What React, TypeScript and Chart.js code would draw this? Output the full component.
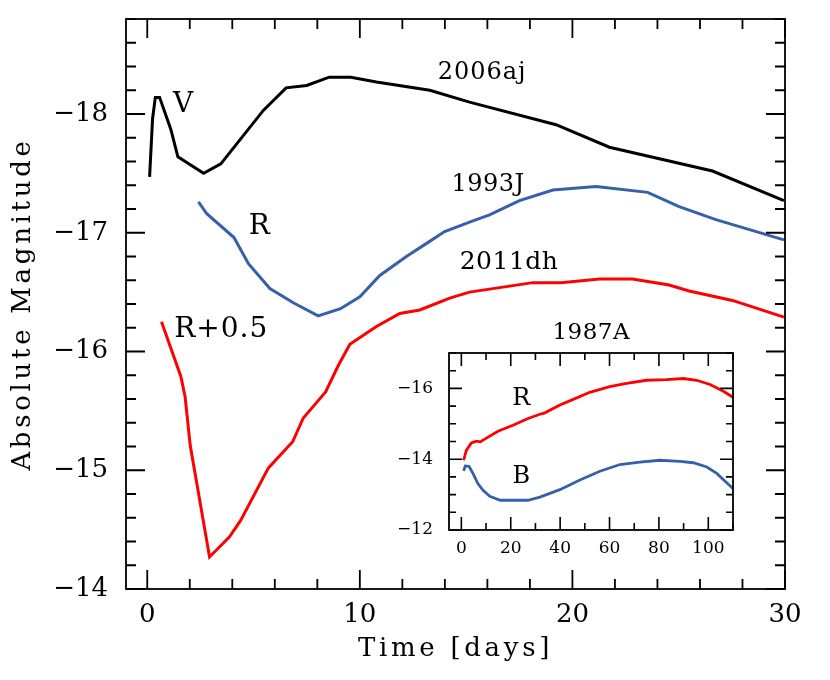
import React, { useEffect, useRef } from "react";
import { Chart, registerables } from "chart.js";

Chart.register(...registerables);

const FONT = "'DejaVu Serif', 'Liberation Serif', serif";

// ---------------- data ----------------
// SN 2006aj, V band (main panel)
const sn2006ajDays = [0.11, 0.25, 0.38, 0.58, 1.11, 1.44, 2.65, 3.46, 5.46, 6.53, 7.5, 8.56, 9.58, 10.78, 13.29, 15.16, 19.23, 21.74, 26.59, 29.95];
const sn2006ajMag = [-17.47, -17.96, -18.14, -18.14, -17.87, -17.64, -17.5, -17.58, -18.03, -18.22, -18.24, -18.31, -18.31, -18.27, -18.2, -18.1, -17.91, -17.72, -17.52, -17.27];

// SN 1993J, R band
const sn1993jDays = [2.41, 2.8, 4.08, 4.76, 5.77, 6.87, 8.04, 9.09, 10.0, 10.94, 12.19, 13.05, 13.99, 15.16, 16.1, 17.51, 19.08, 21.11, 23.54, 25.02, 26.75, 29.95];
const sn1993jMag = [-17.26, -17.16, -16.96, -16.74, -16.53, -16.41, -16.3, -16.36, -16.46, -16.64, -16.8, -16.9, -17.01, -17.09, -17.15, -17.27, -17.36, -17.39, -17.34, -17.22, -17.11, -16.94];

// SN 2011dh, R band + 0.5
const sn2011dhDays = [0.67, 1.58, 1.78, 2.02, 2.93, 3.87, 4.4, 5.7, 6.84, 7.34, 7.82, 8.39, 8.98, 9.53, 10.78, 11.88, 12.82, 14.23, 15.16, 18.14, 19.47, 21.27, 22.83, 24.55, 25.49, 27.53, 29.95];
const sn2011dhMag = [-16.25, -15.79, -15.62, -15.21, -14.27, -14.44, -14.58, -15.02, -15.24, -15.44, -15.54, -15.66, -15.88, -16.06, -16.21, -16.32, -16.35, -16.45, -16.5, -16.58, -16.58, -16.61, -16.61, -16.56, -16.51, -16.43, -16.29];

// SN 1987A inset, R and B bands
const sn1987aRDays = [0.93, 2.0, 4.05, 6.1, 7.7, 8.8, 14.8, 20.9, 27.0, 31.8, 33.8, 39.9, 45.3, 52.0, 60.1, 66.9, 75.0, 83.1, 89.9, 95.3, 100.7, 106.1, 110.0];
const sn1987aRMag = [-13.97, -14.25, -14.46, -14.51, -14.49, -14.54, -14.79, -14.96, -15.15, -15.27, -15.31, -15.53, -15.69, -15.89, -16.05, -16.14, -16.23, -16.25, -16.28, -16.23, -16.11, -15.92, -15.75];
const sn1987aBDays = [0.93, 1.6, 3.1, 4.7, 6.7, 8.8, 11.5, 15.8, 27.0, 31.8, 39.9, 48.0, 56.1, 64.2, 72.3, 80.4, 88.5, 93.9, 99.4, 103.4, 110.0];
const sn1987aBMag = [-13.67, -13.81, -13.8, -13.6, -13.31, -13.12, -12.95, -12.84, -12.84, -12.93, -13.14, -13.41, -13.66, -13.85, -13.92, -13.97, -13.94, -13.9, -13.78, -13.6, -13.17];

// tick labels
const mainXTicks = [0, 10, 20, 30];
const mainYTicks = [-18, -17, -16, -15, -14];
const insetXTicks = [0, 20, 40, 60, 80, 100];
const insetYTicks = [-16, -14, -12];

// ---------------- helpers ----------------
const pts = (xs: number[], ys: number[]) => xs.map((x, i) => ({ x, y: ys[i] }));
const fmt = (v: number) => (v < 0 ? "\u2212" + Math.abs(v) : String(v));

type TextLabel = { text: string; x: number; y: number; size: number; spacing?: number };
type FrameCfg = {
  xMinor: number; xMajor: number; yMinor: number; yMajor: number;
  majorLen: number; minorLen: number; tickWidth: number; frameWidth: number;
  titleSpacing: string; labels: TextLabel[];
};

const isMultiple = (v: number, step: number) => Math.abs(v / step - Math.round(v / step)) < 1e-6;

const framePlugin = (cfg: FrameCfg) => ({
  id: "frameTicksLabels",
  beforeDraw(chart: any) {
    chart.ctx.letterSpacing = cfg.titleSpacing;
  },
  beforeDatasetsDraw(chart: any) {
    chart.ctx.letterSpacing = "0px";
  },
  afterDatasetsDraw(chart: any) {
    const { ctx, chartArea: ca, scales } = chart;
    const xs = scales.x;
    const ys = scales.y;
    ctx.save();
    ctx.strokeStyle = "#000";
    ctx.lineWidth = cfg.tickWidth;
    ctx.lineCap = "butt";
    ctx.beginPath();
    const eps = 1e-6;
    for (let i = Math.ceil(xs.min / cfg.xMinor - eps); i * cfg.xMinor <= xs.max + eps; i++) {
      const v = i * cfg.xMinor;
      const p = xs.getPixelForValue(v);
      const len = isMultiple(v, cfg.xMajor) ? cfg.majorLen : cfg.minorLen;
      ctx.moveTo(p, ca.bottom);
      ctx.lineTo(p, ca.bottom - len);
      ctx.moveTo(p, ca.top);
      ctx.lineTo(p, ca.top + len);
    }
    for (let i = Math.ceil(ys.min / cfg.yMinor - eps); i * cfg.yMinor <= ys.max + eps; i++) {
      const v = i * cfg.yMinor;
      const p = ys.getPixelForValue(v);
      const len = isMultiple(v, cfg.yMajor) ? cfg.majorLen : cfg.minorLen;
      ctx.moveTo(ca.left, p);
      ctx.lineTo(ca.left + len, p);
      ctx.moveTo(ca.right, p);
      ctx.lineTo(ca.right - len, p);
    }
    ctx.stroke();
    ctx.lineWidth = cfg.frameWidth;
    ctx.strokeRect(ca.left, ca.top, ca.right - ca.left, ca.bottom - ca.top);

    ctx.fillStyle = "#000";
    ctx.textAlign = "center";
    ctx.textBaseline = "middle";
    for (const l of cfg.labels) {
      ctx.font = `${l.size}px ${FONT}`;
      ctx.letterSpacing = `${l.spacing ?? 0}px`;
      ctx.fillText(l.text, xs.getPixelForValue(l.x), ys.getPixelForValue(l.y));
    }
    ctx.letterSpacing = "0px";
    ctx.restore();
  },
});

const mainLabels: TextLabel[] = [
  { text: "V", x: 1.69, y: -18.08, size: 28 },
  { text: "2006aj", x: 15.75, y: -18.35, size: 24, spacing: 1 },
  { text: "1993J", x: 16.03, y: -17.4, size: 24, spacing: 0.5 },
  { text: "R", x: 5.27, y: -17.05, size: 28 },
  { text: "2011dh", x: 17.02, y: -16.75, size: 25, spacing: 0.5 },
  { text: "R+0.5", x: 3.48, y: -16.18, size: 28, spacing: 1 },
];

const insetLabels: TextLabel[] = [
  { text: "1987A", x: 52.6, y: -17.56, size: 23, spacing: 0.5 },
  { text: "R", x: 24.3, y: -15.72, size: 24 },
  { text: "B", x: 24.3, y: -13.5, size: 24 },
];

const RED = "#ff0000";
const BLUE = "#3561aa";

const lineDs = (data: { x: number; y: number }[], color: string, width: number) => ({
  data,
  borderColor: color,
  backgroundColor: color,
  borderWidth: width,
  pointRadius: 0,
  tension: 0,
  fill: false,
});

const clearPad = (s: any) => {
  s.paddingTop = 0;
  s.paddingBottom = 0;
  s.paddingLeft = 0;
  s.paddingRight = 0;
};

export default function App() {
  const mainRef = useRef<HTMLCanvasElement>(null);
  const insetRef = useRef<HTMLCanvasElement>(null);

  useEffect(() => {
    Chart.defaults.color = "#000";
    const main = new Chart(mainRef.current as HTMLCanvasElement, {
      type: "line",
      data: {
        datasets: [
          lineDs(pts(sn2006ajDays, sn2006ajMag), "#000000", 3),
          lineDs(pts(sn1993jDays, sn1993jMag), BLUE, 3),
          lineDs(pts(sn2011dhDays, sn2011dhMag), RED, 3),
        ],
      },
      options: {
        animation: false,
        responsive: false,
        devicePixelRatio: 1,
        layout: { padding: { left: 0, top: 19, right: 45, bottom: 0 } },
        plugins: { legend: { display: false }, tooltip: { enabled: false } },
        scales: {
          x: {
            type: "linear",
            min: -1,
            max: 30,
            grid: { display: false, drawTicks: false },
            border: { display: false },
            afterBuildTicks: (s: any) => {
              s.ticks = mainXTicks.map((value) => ({ value }));
            },
            afterFit: (s: any) => {
              s.height = 91;
              clearPad(s);
            },
            ticks: {
              z: 1,
              autoSkip: false,
              maxRotation: 0,
              padding: 11,
              color: "#000",
              font: { family: FONT, size: 26 },
              callback: (v: any) => fmt(Number(v)),
            },
            title: {
              display: true,
              text: "Time [days]",
              color: "#000",
              font: { family: FONT, size: 26 },
              padding: { top: 0, bottom: 15 },
            },
          },
          y: {
            type: "linear",
            min: -18.8,
            max: -14,
            reverse: true,
            grid: { display: false, drawTicks: false },
            border: { display: false },
            afterBuildTicks: (s: any) => {
              s.ticks = mainYTicks.map((value) => ({ value }));
            },
            afterFit: (s: any) => {
              s.width = 126;
              clearPad(s);
            },
            ticks: {
              z: 1,
              autoSkip: false,
              padding: 18,
              color: "#000",
              font: { family: FONT, size: 26 },
              callback: (v: any) => fmt(Number(v)),
            },
            title: {
              display: true,
              text: "Absolute Magnitude",
              color: "#000",
              font: { family: FONT, size: 26 },
              padding: { top: 8, bottom: 0 },
            },
          },
        },
      },
      plugins: [
        framePlugin({
          xMinor: 2, xMajor: 10, yMinor: 0.2, yMajor: 1,
          majorLen: 19, minorLen: 10, tickWidth: 1.8, frameWidth: 1.8,
          titleSpacing: "3.7px", labels: mainLabels,
        }),
      ],
    } as any);

    const inset = new Chart(insetRef.current as HTMLCanvasElement, {
      type: "line",
      data: {
        datasets: [
          lineDs(pts(sn1987aRDays, sn1987aRMag), RED, 2.8),
          lineDs(pts(sn1987aBDays, sn1987aBMag), BLUE, 2.8),
        ],
      },
      options: {
        animation: false,
        responsive: false,
        devicePixelRatio: 1,
        layout: { padding: { left: 0, top: 38, right: 17, bottom: 0 } },
        plugins: { legend: { display: false }, tooltip: { enabled: false } },
        scales: {
          x: {
            type: "linear",
            min: -5,
            max: 110,
            grid: { display: false, drawTicks: false },
            border: { display: false },
            afterBuildTicks: (s: any) => {
              s.ticks = insetXTicks.map((value) => ({ value }));
            },
            afterFit: (s: any) => {
              s.height = 35;
              clearPad(s);
            },
            ticks: {
              z: 1,
              autoSkip: false,
              maxRotation: 0,
              padding: 8,
              color: "#000",
              font: { family: FONT, size: 17 },
              callback: (v: any) => fmt(Number(v)),
            },
          },
          y: {
            type: "linear",
            min: -17,
            max: -12,
            reverse: true,
            grid: { display: false, drawTicks: false },
            border: { display: false },
            afterBuildTicks: (s: any) => {
              s.ticks = insetYTicks.map((value) => ({ value }));
            },
            afterFit: (s: any) => {
              s.width = 59;
              clearPad(s);
            },
            ticks: {
              z: 1,
              autoSkip: false,
              padding: 16,
              color: "#000",
              font: { family: FONT, size: 17 },
              callback: (v: any) => fmt(Number(v)),
            },
          },
        },
      },
      plugins: [
        framePlugin({
          xMinor: 10, xMajor: 20, yMinor: 0.5, yMajor: 2,
          majorLen: 13, minorLen: 7, tickWidth: 1.6, frameWidth: 1.8,
          titleSpacing: "0px", labels: insetLabels,
        }),
      ],
    } as any);

    return () => {
      main.destroy();
      inset.destroy();
    };
  }, []);

  return (
    <div style={{ position: "absolute", left: 0, top: 0, width: 830, height: 680, background: "#fff" }}>
      <canvas
        ref={mainRef}
        width={830}
        height={680}
        style={{ position: "absolute", left: 0, top: 0, width: 830, height: 680 }}
      />
      <canvas
        ref={insetRef}
        width={360}
        height={250}
        style={{ position: "absolute", left: 390, top: 315, width: 360, height: 250 }}
      />
    </div>
  );
}
